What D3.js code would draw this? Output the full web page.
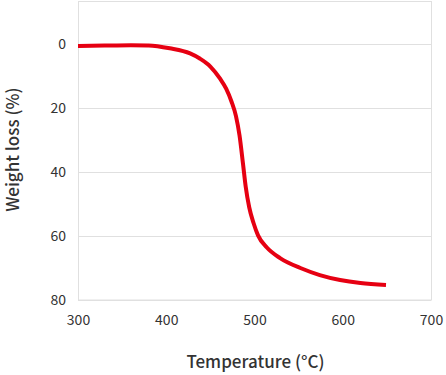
<!DOCTYPE html>
<html>
<head>
<meta charset="utf-8">
<script src="https://cdn.jsdelivr.net/npm/d3@7"></script>
<style>
  body { margin: 0; background: #fff; }
  text { font-family: "Noto Sans CJK JP", "Noto Sans", sans-serif; fill: #333; }
</style>
</head>
<body>
<script>
// temperature (°C) and weight loss (%)
const temps = [300, 330, 360, 380, 404, 427, 438, 450, 461, 468, 474, 479, 483, 487, 490, 494, 499, 504, 514, 529, 552, 574, 597, 620, 649];
const loss  = [0.6, 0.45, 0.35, 0.4, 1.3, 2.9, 4.5, 7.0, 10.8, 14.0, 18.0, 22.5, 28.5, 37.5, 44.5, 51, 56, 59.8, 63.6, 66.9, 70, 72.2, 73.75, 74.7, 75.3];
const xTicks = [300, 400, 500, 600, 700];
const yTicks = [0, 20, 40, 60, 80];

const width = 446, height = 375;
const margin = { top: 1, right: 15, bottom: 75, left: 78 };
const plotW = width - margin.left - margin.right;
const plotH = height - margin.top - margin.bottom;

const svg = d3.select('body').append('svg')
  .attr('width', width)
  .attr('height', height);

const graph = svg.append('g')
  .attr('transform', `translate(${margin.left},${margin.top})`);

const x = d3.scaleLinear().domain([300, 700]).range([0, plotW]);
const y = d3.scaleLinear().domain([-13.5, 80]).range([0, plotH]);

// frame
graph.append('rect')
  .attr('x', 0.5).attr('y', 0.5)
  .attr('width', plotW).attr('height', plotH - 0.5)
  .attr('fill', 'none')
  .attr('stroke', '#e0e0e0');

// horizontal grid
graph.selectAll('.grid')
  .data(yTicks)
  .enter().append('line')
  .attr('class', 'grid')
  .attr('x1', 0).attr('x2', plotW)
  .attr('y1', d => Math.round(y(d)) + 0.5)
  .attr('y2', d => Math.round(y(d)) + 0.5)
  .attr('stroke', '#e0e0e0');

const yAxis = d3.axisLeft(y).tickValues(yTicks).tickSize(0).tickPadding(12);
const xAxis = d3.axisBottom(x).tickValues(xTicks).tickSize(0).tickPadding(15);

const yAxisGroup = graph.append('g').call(yAxis);
const xAxisGroup = graph.append('g')
  .attr('transform', `translate(0,${plotH})`)
  .call(xAxis);

[yAxisGroup, xAxisGroup].forEach(g => {
  g.select('.domain').remove();
  g.selectAll('text')
    .style('font-size', '14px')
    .style('font-family', '"Noto Sans CJK JP", "Noto Sans", sans-serif')
    .attr('fill', '#333');
});

// curve
const line = d3.line()
  .x((d, i) => x(temps[i]))
  .y(d => y(d))
  .curve(d3.curveMonotoneX);

graph.append('path')
  .datum(loss)
  .attr('d', line)
  .attr('fill', 'none')
  .attr('stroke', '#e60012')
  .attr('stroke-width', 4)
  .attr('stroke-linecap', 'butt');

// axis titles
svg.append('text')
  .attr('x', margin.left + plotW / 2 + 1)
  .attr('y', 368)
  .attr('text-anchor', 'middle')
  .style('font-size', '17px')
  .style('font-weight', 500)
  .text('Temperature (°C)');

svg.append('text')
  .attr('transform', `translate(19,${margin.top + y(33)}) rotate(-90)`)
  .attr('text-anchor', 'middle')
  .style('font-size', '17px')
  .style('font-weight', 500)
  .text('Weight loss (%)');
</script>
</body>
</html>
